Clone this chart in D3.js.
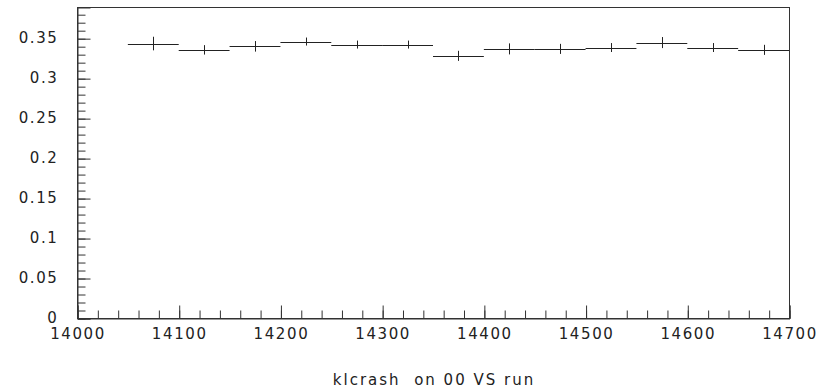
<!DOCTYPE html>
<html>
<head>
<meta charset="utf-8">
<script src="https://cdn.jsdelivr.net/npm/d3@7"></script>
<style>
  html, body { margin: 0; padding: 0; background: #fff; }
  svg text { font-family: "DejaVu Sans", sans-serif; font-size: 15px; fill: #222; letter-spacing: 1.6px; }
  .title { white-space: pre; }
</style>
</head>
<body>
<svg id="chart" width="832" height="390"></svg>
<script>
// Run ranges (bin edges) and the klcrash ratio measured in each
const binLow  = [14050, 14100, 14150, 14200, 14250, 14300, 14350, 14400, 14450, 14500, 14550, 14600, 14650];
const binHigh = [14100, 14150, 14200, 14250, 14300, 14350, 14400, 14450, 14500, 14550, 14600, 14650, 14700];
const values  = [0.3433, 0.3354, 0.3398, 0.3458, 0.3420, 0.3420, 0.3279, 0.3366, 0.3366, 0.3383, 0.3445, 0.3383, 0.3354];
const errors  = [0.0085, 0.0059, 0.0066, 0.0050, 0.0050, 0.0050, 0.0063, 0.0069, 0.0063, 0.0056, 0.0069, 0.0056, 0.0063];

const xMajorTicks = [14000, 14100, 14200, 14300, 14400, 14500, 14600, 14700];
const yMajorTicks = [0, 0.05, 0.1, 0.15, 0.2, 0.25, 0.3, 0.35];
const titleText = "klcrash  on 00 VS run";

const svg = d3.select("#chart");
const padL = 77, padR = 789, padT = 7, padB = 318;

const x = d3.scaleLinear().domain([14000, 14700]).range([padL, padR]);
const y = d3.scaleLinear().domain([0, 0.389]).range([padB, padT]);

const xMinor = d3.range(14000, 14701, 20);
const yMinor = d3.range(0, 0.3891, 0.01);

// frame
svg.append("rect")
  .attr("x", padL + 0.5).attr("y", padT + 0.5)
  .attr("width", padR - padL).attr("height", padB - padT)
  .attr("fill", "none").attr("stroke", "#333").attr("stroke-width", 1);

// x axis: minor then major ticks pointing inward
const gx = svg.append("g").attr("transform", `translate(0.5,${padB + 0.5})`);
gx.append("g")
  .call(d3.axisBottom(x).tickValues(xMinor).tickSize(-8).tickFormat(""))
  .call(g => g.select(".domain").remove());
gx.append("g")
  .call(d3.axisBottom(x).tickValues(xMajorTicks).tickSize(-13).tickPadding(10).tickFormat(d3.format("d")))
  .call(g => g.select(".domain").attr("stroke", "#333"));

// y axis
const gy = svg.append("g").attr("transform", `translate(${padL + 0.5},0.5)`);
gy.append("g")
  .call(d3.axisLeft(y).tickValues(yMinor).tickSize(-8).tickFormat(""))
  .call(g => g.select(".domain").remove());
gy.append("g")
  .call(d3.axisRight(y).tickValues(yMajorTicks).tickSize(13).tickFormat(""))
  .call(g => g.select(".domain").attr("stroke", "#333"));
gy.append("g")
  .attr("transform", "translate(0,-1)")
  .call(d3.axisLeft(y).tickValues(yMajorTicks).tickSize(0).tickPadding(19).tickFormat(d => d === 0 ? "0" : String(+d.toFixed(2))))
  .call(g => g.select(".domain").remove());

svg.selectAll(".tick line").attr("stroke", "#333");
svg.selectAll(".tick text").attr("font-family", null).attr("font-size", null).attr("fill", null);
svg.selectAll("g[font-family]").attr("font-family", null).attr("font-size", null);

// histogram bins: horizontal bar at value with vertical error bar at bin centre
const bins = binLow.map((lo, i) => ({ lo, hi: binHigh[i], v: values[i], e: errors[i] }));
const gh = svg.append("g").attr("stroke", "#222").attr("stroke-width", 1);
gh.selectAll("line.h").data(bins).join("line").attr("class", "h")
  .attr("x1", d => x(d.lo)).attr("x2", d => x(d.hi))
  .attr("y1", d => Math.round(y(d.v)) + 0.5).attr("y2", d => Math.round(y(d.v)) + 0.5);
gh.selectAll("line.e").data(bins).join("line").attr("class", "e")
  .attr("x1", d => Math.round(x((d.lo + d.hi) / 2)) + 0.5).attr("x2", d => Math.round(x((d.lo + d.hi) / 2)) + 0.5)
  .attr("y1", d => y(d.v - d.e)).attr("y2", d => y(d.v + d.e));

// title below the axis
svg.append("text").attr("class", "title")
  .attr("x", (padL + padR) / 2 + 1).attr("y", 385)
  .attr("text-anchor", "middle")
  .style("font-size", "15px").style("letter-spacing", "2px")
  .text(titleText);
</script>
</body>
</html>
